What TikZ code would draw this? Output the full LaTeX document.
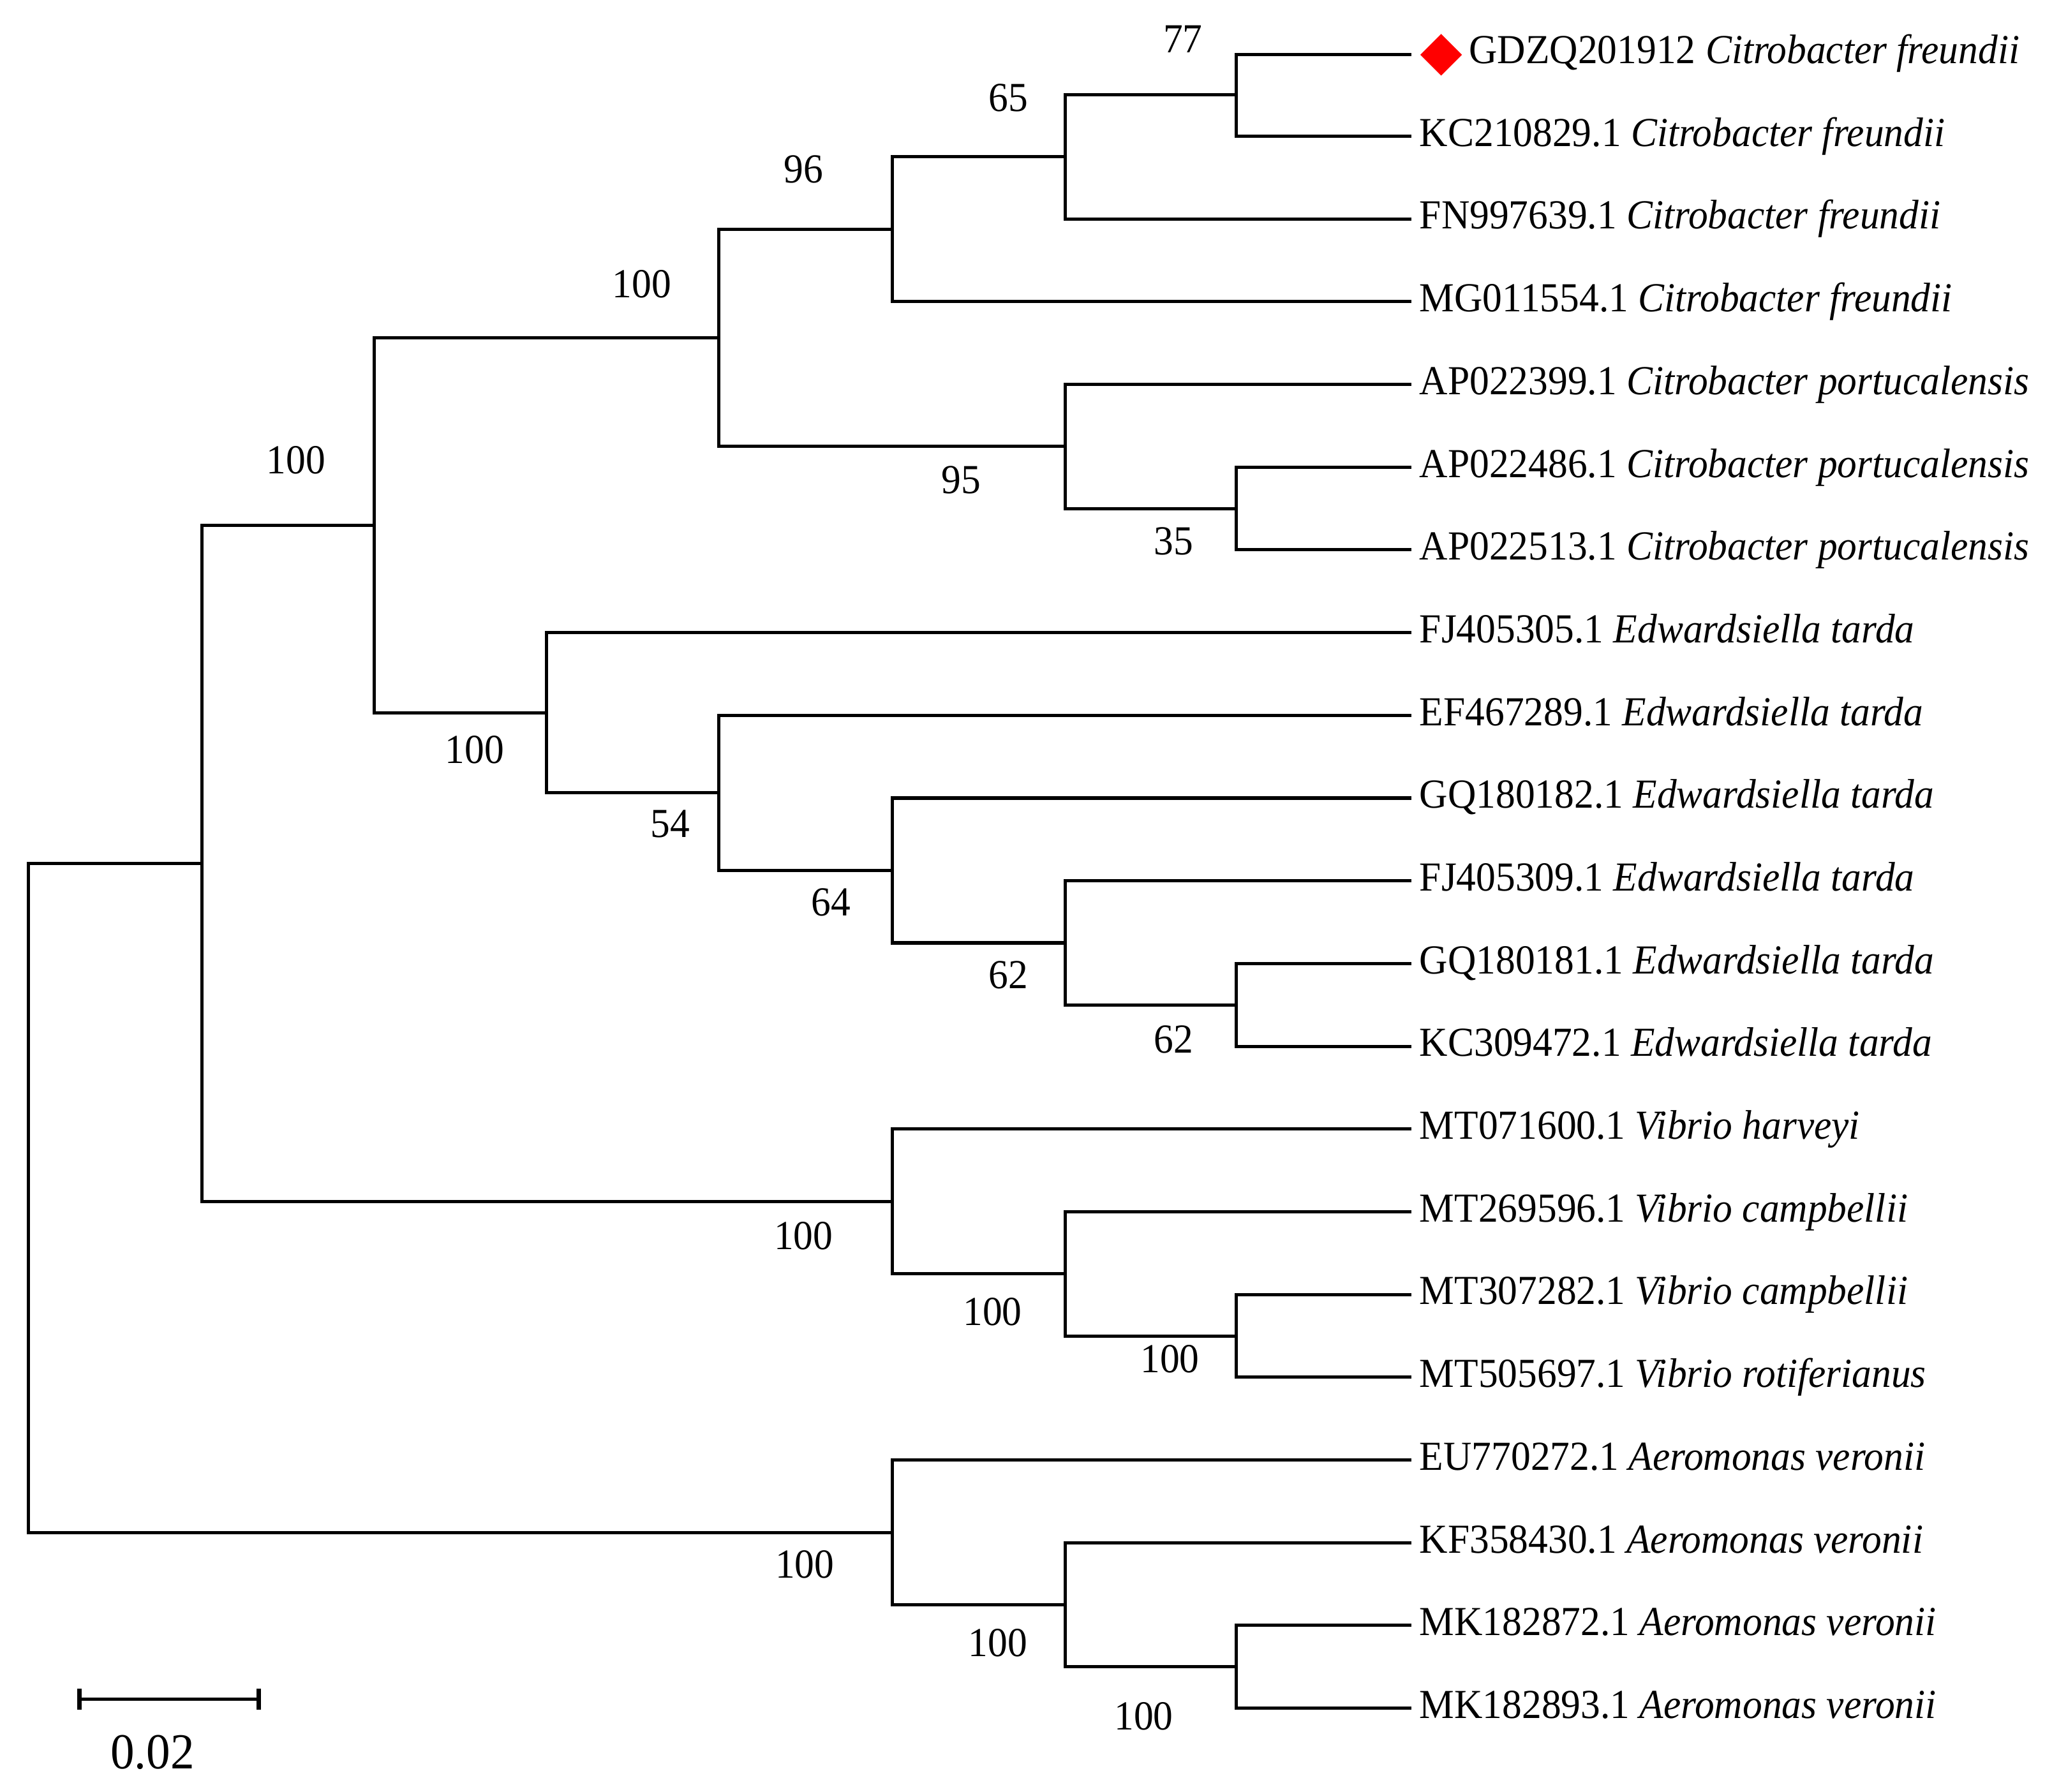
\documentclass[tikz,border=0pt]{standalone}
\usepackage{fontspec}
\setmainfont[FakeStretch=0.95]{Liberation Serif}
\usetikzlibrary{arrows.meta}
\usetikzlibrary{shapes.geometric}

\begin{document}
\begin{tikzpicture}[x=0.01cm, y=-0.01cm, line width=0.7pt,
leaf/.style={anchor=west, inner xsep=1.5pt, inner ysep=0pt, text height=0.64em, text depth=0.2em, font=\fontsize{9}{10}\selectfont},
boot/.style={inner sep=0pt, font=\fontsize{9}{10}\selectfont},
tipmark/.style={diamond, fill=red, minimum width=0.36cm, minimum height=0.36cm, inner sep=0pt, outer sep=0.05cm}]
\useasboundingbox (0,0) rectangle (1568,1374);
% leaves
\node[tipmark] (gdzq) at (1105,42) {};
\node[leaf] (l1) at (1120,41) {GDZQ201912 \textit{Citrobacter freundii}};
\foreach \i/\t in {2/{KC210829.1 \textit{Citrobacter freundii}}, 3/{FN997639.1 \textit{Citrobacter freundii}},
4/{MG011554.1 \textit{Citrobacter freundii}}, 5/{AP022399.1 \textit{Citrobacter portucalensis}},
6/{AP022486.1 \textit{Citrobacter portucalensis}}, 7/{AP022513.1 \textit{Citrobacter portucalensis}},
8/{FJ405305.1 \textit{Edwardsiella tarda}}, 9/{EF467289.1 \textit{Edwardsiella tarda}},
10/{GQ180182.1 \textit{Edwardsiella tarda}}, 11/{FJ405309.1 \textit{Edwardsiella tarda}},
12/{GQ180181.1 \textit{Edwardsiella tarda}}, 13/{KC309472.1 \textit{Edwardsiella tarda}},
14/{MT071600.1 \textit{Vibrio harveyi}}, 15/{MT269596.1 \textit{Vibrio campbellii}},
16/{MT307282.1 \textit{Vibrio campbellii}}, 17/{MT505697.1 \textit{Vibrio rotiferianus}},
18/{EU770272.1 \textit{Aeromonas veronii}}, 19/{KF358430.1 \textit{Aeromonas veronii}},
20/{MK182872.1 \textit{Aeromonas veronii}}, 21/{MK182893.1 \textit{Aeromonas veronii}}}{
\node[leaf] (l\i) at (1082,{41+63.45*(\i-1)}) {\t};}
% inner nodes
\foreach \n/\x/\y in {A/948/72.7, B/817/120.3, C/684/175.8, D/948/390, E/817/342.4, F/551/259.1,
G/948/770.7, H/817/723.1, I/684/667.6, J/551/608.1, K/419/546.6, L/287/402.9,
M/948/1024.5, N/817/976.9, O/684/921.4, P/155/662.1, Q/948/1278.3, R/817/1230.7,
S/684/1175.2, root/22/918.6}{
\coordinate (\n) at (\x,\y);}
\foreach \p/\c in {A/gdzq, A/l2, B/A, B/l3, C/B, C/l4, D/l6, D/l7, E/l5, E/D, F/C, F/E,
G/l12, G/l13, H/l11, H/G, I/l10, I/H, J/l9, J/I, K/l8, K/J, L/F, L/K,
M/l16, M/l17, N/l15, N/M, O/l14, O/N, P/L, P/O, Q/l20, Q/l21, R/l19, R/Q,
S/l18, S/R, root/P, root/S}{
\draw (\p) |- (\c);}
% bootstrap values
\foreach \n/\x/\y/\v in {bA/907/30/77, bB/773/75/65, bC/616/130/96, bF/492/218/100, bL/227/353/100,
bE/737/368/95, bD/900/415/35, bK/364/575/100, bJ/514/632/54, bI/637/692/64, bH/773/748/62,
bG/900/797/62, bO/616/948/100, bN/761/1006/100, bM/897/1042/100, bS/617/1200/100,
bR/765/1260/100, bQ/877/1316/100}{
\node[boot] (\n) at (\x,\y) {\v};}
% scale bar
\coordinate (sb0) at (59,1303);
\coordinate (sb1) at (200,1303);
\draw[{Bar[width=0.16cm, line width=1pt]}-{Bar[width=0.16cm, line width=1pt]}] (sb0) -- (sb1);
\node[inner sep=0pt, font=\fontsize{11}{13}\selectfont] (sblab) at (117,1344) {0.02};
\end{tikzpicture}
\end{document}
